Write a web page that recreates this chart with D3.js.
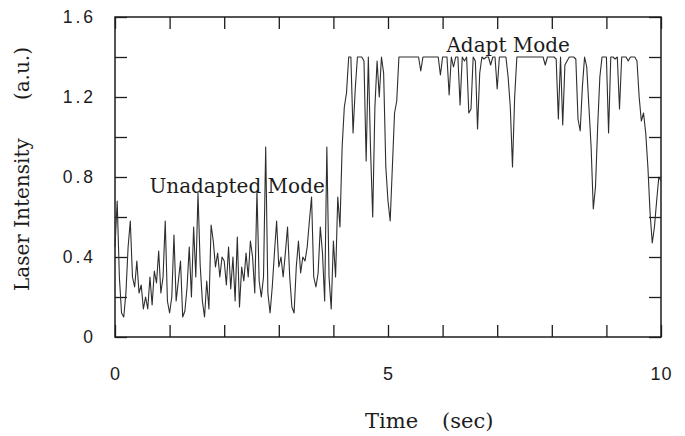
<!DOCTYPE html>
<html>
<head>
<meta charset="utf-8">
<script src="https://cdn.jsdelivr.net/npm/d3@7"></script>
<style>
  html, body { margin: 0; padding: 0; background: #fff; }
  svg { display: block; }
</style>
</head>
<body>
<svg id="chart" width="685" height="436"></svg>
<script>
// ---- data ----
const sampleStep = 0.04; // seconds between samples
const intensity = [
  // 0 - 1 s
  0.45,0.68,0.30,0.12,0.10,0.22,0.45,0.58,0.30,0.25,0.38,0.22,0.26,0.14,0.20,0.14,0.30,0.16,0.33,0.27,0.43,0.22,0.30,0.58,0.18,
  // 1 - 2 s
  0.12,0.20,0.51,0.18,0.28,0.38,0.10,0.13,0.25,0.45,0.20,0.55,0.30,0.72,0.36,0.18,0.10,0.28,0.14,0.56,0.48,0.35,0.42,0.30,0.40,
  // 2 - 3 s
  0.38,0.26,0.45,0.24,0.40,0.18,0.50,0.15,0.35,0.28,0.42,0.30,0.48,0.40,0.22,0.73,0.28,0.20,0.30,0.95,0.22,0.12,0.25,0.42,0.58,
  // 3 - 4 s
  0.35,0.40,0.30,0.42,0.55,0.30,0.15,0.12,0.35,0.48,0.32,0.40,0.38,0.45,0.58,0.70,0.30,0.25,0.32,0.55,0.42,0.18,0.95,0.30,0.14,
  // 4 - 5 s
  0.48,0.30,0.70,0.55,0.95,1.15,1.22,1.40,1.40,1.02,1.24,1.40,1.40,1.40,1.38,0.88,1.40,0.94,0.60,1.15,1.38,1.20,1.40,1.32,0.85,
  // 5 - 6 s
  0.68,0.58,0.85,1.12,1.18,1.40,1.40,1.40,1.40,1.40,1.40,1.40,1.40,1.40,1.40,1.33,1.40,1.40,1.40,1.40,1.40,1.40,1.40,1.40,1.31,
  // 6 - 7 s
  1.40,1.40,1.40,1.21,1.40,1.35,1.40,1.40,1.16,1.40,1.38,1.40,1.12,1.14,1.40,1.38,1.04,1.32,1.40,1.39,1.40,1.40,1.36,1.40,1.40,
  // 7 - 8 s
  1.24,1.40,1.40,1.40,1.40,1.30,1.15,0.85,1.20,1.40,1.40,1.40,1.40,1.40,1.40,1.40,1.40,1.40,1.40,1.40,1.40,1.40,1.36,1.40,1.40,
  // 8 - 9 s
  1.40,1.40,1.39,1.09,1.40,1.06,1.36,1.38,1.40,1.40,1.40,1.39,1.09,1.03,1.25,1.40,1.35,1.15,0.95,0.64,0.75,1.05,1.30,1.40,1.40,
  // 9 - 10 s
  1.40,1.02,1.40,1.40,1.39,1.40,1.14,1.40,1.40,1.40,1.38,1.40,1.40,1.40,1.38,1.20,1.08,1.12,1.02,0.85,0.62,0.47,0.55,0.68,0.80,
  0.78
];
const xTicks = [0,1,2,3,4,5,6,7,8,9,10];
const xLabels = [0,5,10];
const yTicks = [0,0.2,0.4,0.6,0.8,1.0,1.2,1.4,1.6];
const yLabels = [0,0.4,0.8,1.2,1.6];
const annotations = [
  {text: "Unadapted Mode", t: 0.63, v: 0.72},
  {text: "Adapt Mode", t: 6.07, v: 1.425}
];
const xTitleParts = ["Time", "(sec)"];
const yTitle = "Laser Intensity      (a.u.)";

// ---- drawing ----
const svg = d3.select("#chart");
const x = d3.scaleLinear().domain([0,10]).range([115,661]);
const y = d3.scaleLinear().domain([0,1.6]).range([337,17]);
const ink = "#1c1c1c";
const sans = "'Liberation Sans', Arial, sans-serif";
const serif = "'DejaVu Serif', 'Liberation Serif', serif";

const fmt = d => d === 0 ? "0" : (Number.isInteger(d) ? String(d) : d.toFixed(1));

function styleAxis(g) {
  g.select(".domain").remove();
  g.selectAll(".tick line").attr("stroke", ink).attr("stroke-width", 1.3);
  g.selectAll(".tick text").attr("fill", ink).attr("font-family", sans)
    .attr("font-size", 17.5).attr("letter-spacing", "3px");
}

svg.append("g").attr("transform", `translate(0,${y(0)})`)
  .call(d3.axisBottom(x).tickValues(xTicks).tickSize(-12).tickPadding(30)
    .tickFormat(d => xLabels.includes(d) ? fmt(d) : ""))
  .call(styleAxis)
  .call(g => g.selectAll(".tick text").attr("letter-spacing", "1px").attr("font-size", 18));
svg.append("g").attr("transform", `translate(0,${y(1.6)})`)
  .call(d3.axisTop(x).tickValues(xTicks).tickSize(-12).tickFormat(""))
  .call(styleAxis);
svg.append("g").attr("transform", `translate(${x(0)},0)`)
  .call(d3.axisLeft(y).tickValues(yTicks).tickSize(-12).tickPadding(19)
    .tickFormat(d => yLabels.some(l => Math.abs(l - d) < 1e-9) ? fmt(d) : ""))
  .call(styleAxis);
svg.append("g").attr("transform", `translate(${x(10)},0)`)
  .call(d3.axisRight(y).tickValues(yTicks).tickSize(-12).tickFormat(""))
  .call(styleAxis);

// frame
svg.append("rect")
  .attr("x", x(0)).attr("y", y(1.6))
  .attr("width", x(10) - x(0)).attr("height", y(0) - y(1.6))
  .attr("fill", "none").attr("stroke", ink).attr("stroke-width", 1.5);

// signal
const line = d3.line()
  .x((d, i) => x(i * sampleStep)).y(d => y(d));
svg.append("path").datum(intensity)
  .attr("d", line).attr("fill", "none")
  .attr("stroke", "#2e2e2e").attr("stroke-width", 1.1).attr("stroke-linejoin", "round");

// annotations
svg.selectAll("text.ann").data(annotations).join("text")
  .attr("class", "ann")
  .attr("x", d => x(d.t)).attr("y", d => y(d.v))
  .attr("font-family", serif).attr("font-size", 20).attr("fill", ink)
  .text(d => d.text);

// axis titles
const xt = svg.append("text")
  .attr("y", 428)
  .attr("font-family", serif).attr("font-size", 21).attr("fill", ink);
xt.append("tspan").attr("x", 365).text(xTitleParts[0]);
xt.append("tspan").attr("x", 442).text(xTitleParts[1]);

svg.append("text")
  .attr("transform", "translate(29,169) rotate(-90)")
  .attr("text-anchor", "middle")
  .attr("font-family", serif).attr("font-size", 20).attr("fill", ink)
  .style("white-space", "pre")
  .text(yTitle);
</script>
</body>
</html>
